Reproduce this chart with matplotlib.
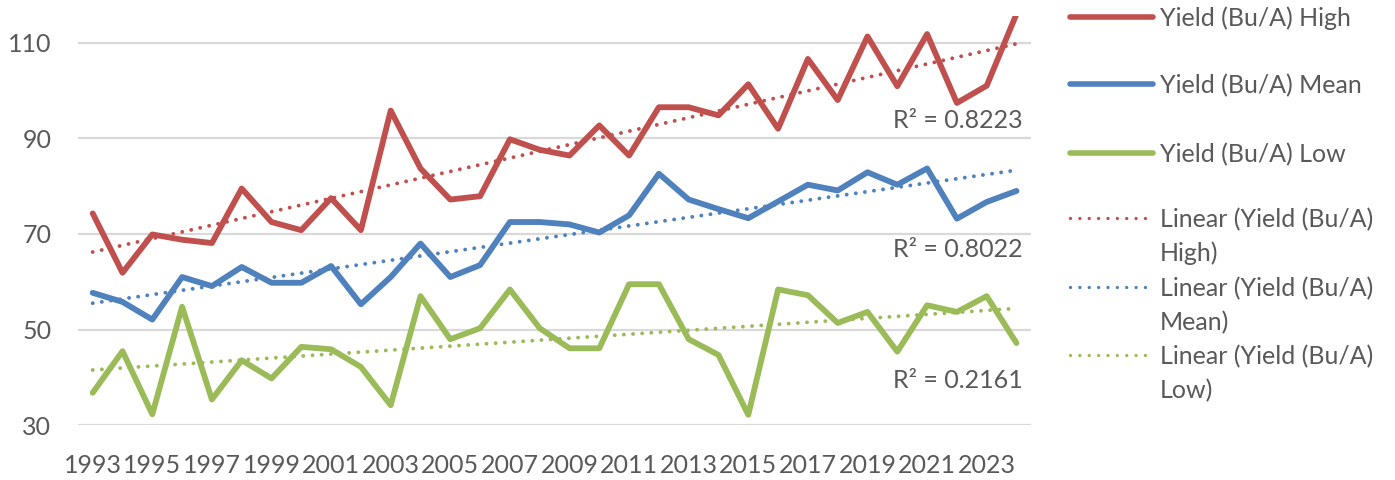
import numpy as np
import matplotlib
matplotlib.use("Agg")
import matplotlib.pyplot as plt
from matplotlib.lines import Line2D

plt.rcParams["font.family"] = ["Lato", "DejaVu Sans"]

# --- data ---
years = list(range(1993, 2025))
yield_high = [74.3, 61.9, 69.9, 68.8, 68.1, 79.5, 72.5, 70.8, 77.5, 70.8,
              95.8, 83.7, 77.2, 77.9, 89.8, 87.6, 86.4, 92.7, 86.4, 96.5,
              96.5, 94.8, 101.3, 92.0, 106.6, 98.0, 111.3, 100.9, 111.8, 97.4,
              101.0, 116.0]
yield_mean = [57.7, 55.8, 52.1, 61.0, 59.1, 63.1, 59.8, 59.8, 63.3, 55.3,
              61.0, 68.0, 61.0, 63.5, 72.5, 72.5, 72.0, 70.3, 73.9, 82.6,
              77.2, 75.2, 73.3, 76.8, 80.3, 79.1, 82.9, 80.3, 83.7, 73.2,
              76.7, 79.0]
yield_low = [36.8, 45.5, 32.3, 54.8, 35.4, 43.6, 39.8, 46.4, 45.9, 42.2,
             34.2, 57.0, 48.0, 50.3, 58.4, 50.3, 46.1, 46.1, 59.5, 59.5,
             48.0, 44.7, 32.2, 58.4, 57.2, 51.4, 53.7, 45.4, 55.1, 53.7,
             57.0, 47.2]
r2_labels = ["R² = 0.8223", "R² = 0.8022", "R² = 0.2161"]
series_names = ["Yield (Bu/A) High", "Yield (Bu/A) Mean", "Yield (Bu/A) Low"]
trend_names = ["Linear (Yield (Bu/A)\nHigh)", "Linear (Yield (Bu/A)\nMean)",
               "Linear (Yield (Bu/A)\nLow)"]
y_ticks = [30, 50, 70, 90, 110]

colors = ["#C0504D", "#4F81BD", "#9BBB59"]
text_color = "#595959"
grid_color = "#D9D9D9"

W, H = 1395, 480
fig = plt.figure(figsize=(W / 100, H / 100), dpi=100)


def px(x, y):
    """pixel (from top-left) -> figure fraction"""
    return x / W, 1 - y / H


# plot area in pixels
left, right, bottom, top = 77.8, 1031.4, 425.3, 16
ax = fig.add_axes([left / W, 1 - bottom / H, (right - left) / W, (bottom - top) / H])

x = np.arange(len(years))
dots = (0, (0.01, 2.35))
for vals, c in zip([yield_high, yield_mean, yield_low], colors):
    ax.plot(x, vals, color=c, lw=4.2, solid_capstyle="round",
            solid_joinstyle="round", zorder=3)
    k, b = np.polyfit(x, vals, 1)
    ax.plot(x, k * x + b, color=c, lw=2.8, linestyle=dots,
            dash_capstyle="round", zorder=2)

ax.set_xlim(-0.5, len(years) - 0.5)
ax.set_ylim(30, 30 + (bottom - top) / 4.783)
ax.set_yticks(y_ticks)
ax.set_xticks(x[::2])
ax.set_xticklabels([str(y) for y in years[::2]])
ax.grid(axis="y", color=grid_color, lw=1.6)
ax.set_axisbelow(True)
for s in ax.spines.values():
    s.set_visible(False)
ax.tick_params(axis="both", length=0, labelsize=18, colors=text_color)
ax.tick_params(axis="y", pad=19)
ax.tick_params(axis="x", pad=21)

# R² labels
for lab, yb in zip(r2_labels, [92.2, 65.2, 37.8]):
    ax.text(31.2, yb, lab, ha="right", va="baseline", fontsize=18,
            color=text_color, zorder=4)

# legend drawn by hand
handle_x0, handle_x1, text_x = 1070, 1153, 1160
entry_y = [17, 84, 153, 218, 287, 355]
labels = series_names + trend_names
for i, (lab, yy) in enumerate(zip(labels, entry_y)):
    c = colors[i % 3]
    x0, y0 = px(handle_x0, yy)
    x1, _ = px(handle_x1, yy)
    if i < 3:
        ln = Line2D([x0, x1], [y0, y0], color=c, lw=4.0,
                    solid_capstyle="round", transform=fig.transFigure)
    else:
        ln = Line2D([x0, x1], [y0, y0], color=c, lw=2.4, linestyle=(0, (0.01, 2.8)),
                    dash_capstyle="round", transform=fig.transFigure)
    fig.add_artist(ln)
    for j, part in enumerate(lab.split("\n")):
        tx, ty = px(text_x, yy + 9 + 34 * j)
        fig.text(tx, ty, part, ha="left", va="baseline", fontsize=18,
                 color=text_color)

fig.savefig("out.png", dpi=100)
